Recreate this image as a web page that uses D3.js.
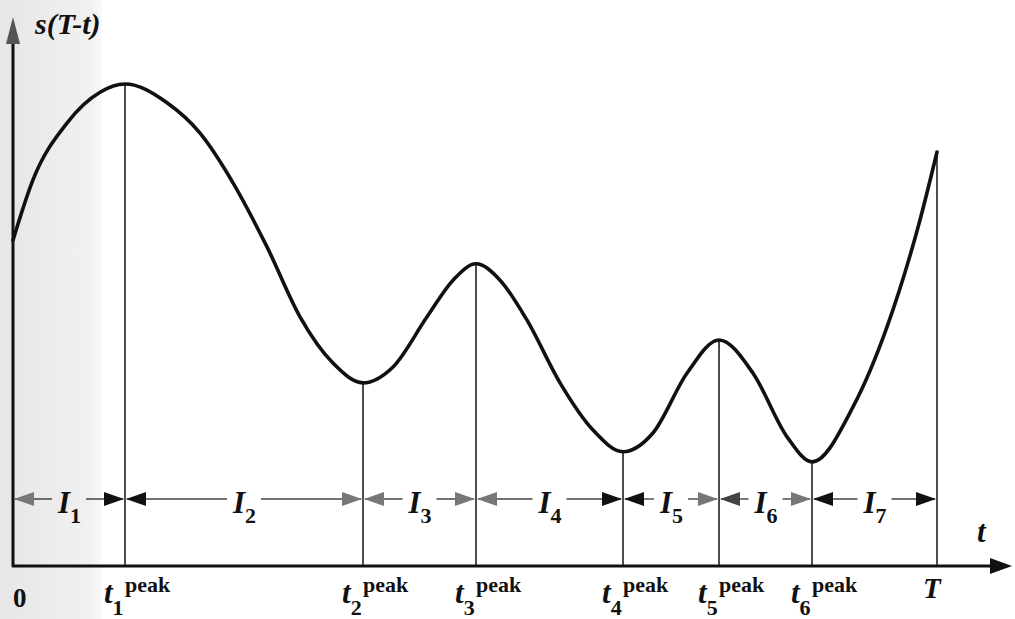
<!DOCTYPE html>
<html><head><meta charset="utf-8">
<script src="https://cdn.jsdelivr.net/npm/d3@7"></script>
<style>
html,body{margin:0;padding:0;background:#fff;}
svg{display:block;}
text{font-family:"Liberation Serif","Times New Roman",serif;font-weight:bold;fill:#111;}
</style></head>
<body>
<svg id="chart" width="1015" height="619"></svg>
<script>
// ---- data (t in units where T = 100, s normalized so first peak = 100) ----
const curveT = [0, 2.16, 5.84, 9.42, 12.12, 16.67, 20.24, 23.81, 27.49, 31.06, 34.63, 37.88,
  41.13, 44.81, 47.62, 50.11, 52.71, 55.63, 59.20, 62.77, 66.02,
  69.26, 72.94, 76.41, 80.09, 83.77, 86.47, 90.91, 94.59, 98.16, 100];
const curveS = [67.6, 80.1, 91.9, 98.3, 100, 96.1, 89.8, 79.5, 66.2, 51.7, 42.1, 38.0,
  41.3, 51.7, 59.3, 62.7, 59.3, 51.0, 38.0, 28.2, 23.7,
  27.6, 40.0, 46.9, 40.0, 26.8, 21.6, 33.0, 49.6, 71.8, 85.9];
const boundaryT = [0, 12.12, 37.88, 50.11, 66.02, 76.41, 86.47, 100];
const boundaryS = [67.6, 100, 38.0, 62.7, 23.7, 46.9, 21.6, 85.9];
const intervalLabels = ["1", "2", "3", "4", "5", "6", "7"];
const peakLabels = ["1", "2", "3", "4", "5", "6"];

// ---- layout ----
const svg = d3.select("#chart");
const x = d3.scaleLinear().domain([0, 100]).range([13, 937]);
const y = d3.scaleLinear().domain([0, 100]).range([566, 84]);
const axisY = y(0), axisX = x(0);
const arrowRowY = 499;
const grey = "#777", black = "#111";
const leftCol  = [grey, black, grey, grey, black, "#444", black];
const rightCol = [black, grey, grey, black, grey, grey, black];

// scan-like grey band on the left
const grad = svg.append("defs").append("linearGradient").attr("id","band").attr("x1","0").attr("x2","1");
grad.append("stop").attr("offset","0").attr("stop-color","#e6e6e6");
grad.append("stop").attr("offset","0.9").attr("stop-color","#f1f1f1");
grad.append("stop").attr("offset","1").attr("stop-color","#fafafa");
svg.append("rect").attr("x",0).attr("y",0).attr("width",102).attr("height",619).attr("fill","url(#band)");

// vertical lines at extrema
svg.selectAll("line.v").data(boundaryT.slice(1)).enter().append("line")
  .attr("class","v")
  .attr("x1", d => x(d)).attr("x2", d => x(d))
  .attr("y1", (d,i) => y(boundaryS[i+1])).attr("y2", axisY)
  .attr("stroke", "#222").attr("stroke-width", 1.6);

// curve
const pts = curveT.map((t,i) => [t, curveS[i]]);
svg.append("path").datum(pts)
  .attr("d", d3.line().x(d => x(d[0])).y(d => y(d[1])).curve(d3.curveMonotoneX))
  .attr("fill","none").attr("stroke","#111").attr("stroke-width",3.6).attr("stroke-linecap","round");

// axes
svg.append("line").attr("x1",axisX).attr("x2",axisX).attr("y1",axisY+1).attr("y2",40)
  .attr("stroke","#111").attr("stroke-width",3);
svg.append("path").attr("d",`M${axisX},17 L${axisX-7},44 L${axisX+7},44 Z`).attr("fill","#555");
svg.append("line").attr("x1",axisX-1).attr("x2",995).attr("y1",axisY).attr("y2",axisY)
  .attr("stroke","#111").attr("stroke-width",3);
svg.append("path").attr("d",`M1012,${axisY} L990,${axisY-8} L990,${axisY+8} Z`).attr("fill","#111");

// interval arrows and labels
function arrowHead(px, dir, col) {
  svg.append("path")
    .attr("d", `M${px},${arrowRowY} L${px - dir*20},${arrowRowY-7} L${px - dir*20},${arrowRowY+7} Z`)
    .attr("fill", col);
}
intervalLabels.forEach((lab, i) => {
  const x0 = x(boundaryT[i]), x1 = x(boundaryT[i+1]);
  const cx = (x0 + x1) / 2;
  const half = 17;
  svg.append("line").attr("x1", x0+2).attr("x2", cx-half).attr("y1",arrowRowY).attr("y2",arrowRowY)
    .attr("stroke","#444").attr("stroke-width",1.4);
  svg.append("line").attr("x1", cx+half).attr("x2", x1-2).attr("y1",arrowRowY).attr("y2",arrowRowY)
    .attr("stroke","#444").attr("stroke-width",1.4);
  arrowHead(x0+1, -1, leftCol[i]);
  arrowHead(x1-1, 1, rightCol[i]);
  const t = svg.append("text").attr("x", cx - 11).attr("y", 513).attr("font-size", 31);
  t.append("tspan").attr("font-style","italic").text("I");
  t.append("tspan").attr("dy", 10).attr("font-size", 22).text(lab);
});

// bottom labels
svg.append("text").attr("x", axisX).attr("y", 607).attr("font-size", 27).text("0");
peakLabels.forEach((lab, i) => {
  const px = x(boundaryT[i+1]);
  const t = svg.append("text").attr("x", px - 21).attr("y", 603).attr("font-size", 31);
  t.append("tspan").attr("font-style","italic").text("t");
  t.append("tspan").attr("dy", 12).attr("font-size", 22).text(lab);
  svg.append("text").attr("x", px).attr("y", 592).attr("font-size", 22).text("peak");
});
svg.append("text").attr("x", x(100) - 14).attr("y", 598).attr("font-size", 29)
  .attr("font-style","italic").text("T");
svg.append("text").attr("x", 977).attr("y", 542).attr("font-size", 31)
  .attr("font-style","italic").text("t");
svg.append("text").attr("x", 35).attr("y", 34).attr("font-size", 30)
  .attr("font-style","italic").text("s(T-t)");
</script>
</body></html>
